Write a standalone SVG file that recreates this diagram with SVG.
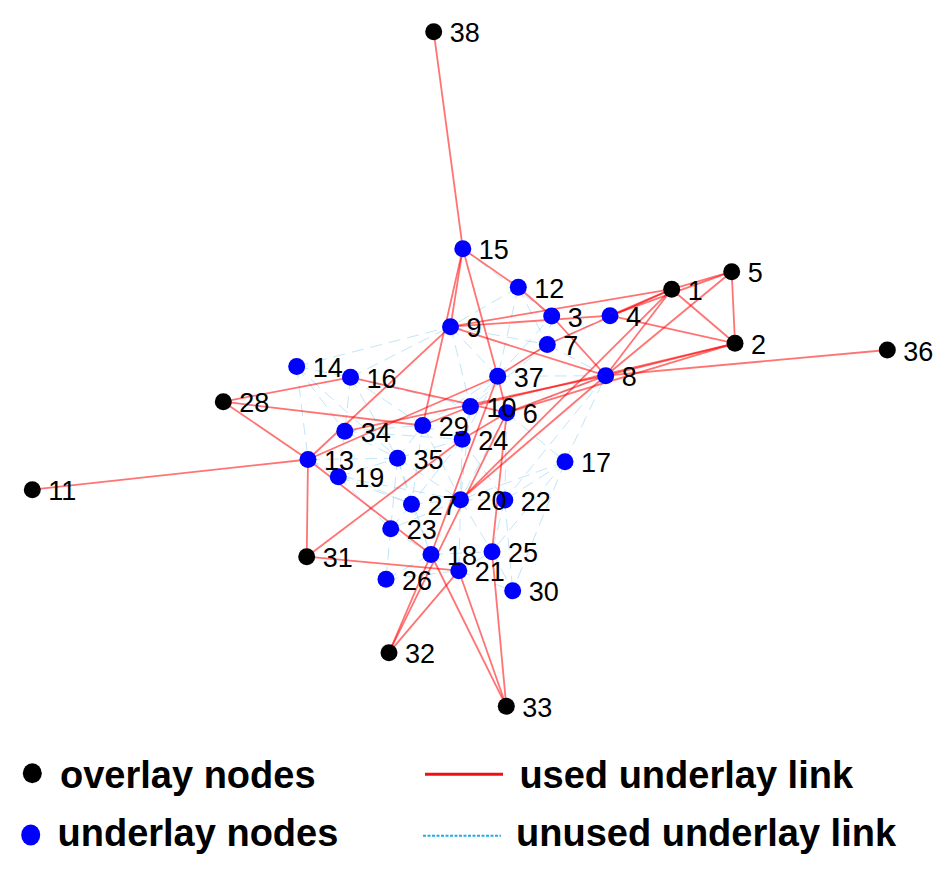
<svg xmlns="http://www.w3.org/2000/svg" width="948" height="872" viewBox="0 0 948 872">
<style>
.u{stroke:#8fd0ee;stroke-width:1;stroke-opacity:0.55;stroke-dasharray:12 7;fill:none}
.r{stroke:#ff0000;stroke-width:1.8;stroke-opacity:0.55;fill:none}
.ov{fill:#000}
.un{fill:#0000ff}
.lb{font-family:"Liberation Sans",Arial,sans-serif;font-size:27px;fill:#000}
.lg{font-family:"Liberation Sans",Arial,sans-serif;font-size:38px;font-weight:bold;fill:#000}
</style>
<rect width="948" height="872" fill="#fff"/>
<g id="unused-links" class="u">
<line x1="296.7" y1="366.5" x2="350.5" y2="377.3"/>
<line x1="296.7" y1="366.5" x2="344.8" y2="431.3"/>
<line x1="296.7" y1="366.5" x2="308" y2="459.5"/>
<line x1="296.7" y1="366.5" x2="450.5" y2="326.7"/>
<line x1="350.5" y1="377.3" x2="344.8" y2="431.3"/>
<line x1="350.5" y1="377.3" x2="450.5" y2="326.7"/>
<line x1="350.5" y1="377.3" x2="397.5" y2="458.2"/>
<line x1="350.5" y1="377.3" x2="422.7" y2="425.5"/>
<line x1="344.8" y1="431.3" x2="397.5" y2="458.2"/>
<line x1="344.8" y1="431.3" x2="422.7" y2="425.5"/>
<line x1="344.8" y1="431.3" x2="338.3" y2="476.7"/>
<line x1="308" y1="459.5" x2="397.5" y2="458.2"/>
<line x1="308" y1="459.5" x2="338.3" y2="476.7"/>
<line x1="338.3" y1="476.7" x2="397.5" y2="458.2"/>
<line x1="338.3" y1="476.7" x2="411.5" y2="504.2"/>
<line x1="338.3" y1="476.7" x2="390.7" y2="528.7"/>
<line x1="397.5" y1="458.2" x2="422.7" y2="425.5"/>
<line x1="397.5" y1="458.2" x2="462.2" y2="439.3"/>
<line x1="397.5" y1="458.2" x2="411.5" y2="504.2"/>
<line x1="397.5" y1="458.2" x2="460.5" y2="499.8"/>
<line x1="397.5" y1="458.2" x2="390.7" y2="528.7"/>
<line x1="422.7" y1="425.5" x2="462.2" y2="439.3"/>
<line x1="422.7" y1="425.5" x2="497.7" y2="376.3"/>
<line x1="422.7" y1="425.5" x2="411.5" y2="504.2"/>
<line x1="462.2" y1="439.3" x2="470.5" y2="406.5"/>
<line x1="462.2" y1="439.3" x2="497.7" y2="376.3"/>
<line x1="462.2" y1="439.3" x2="460.5" y2="499.8"/>
<line x1="462.2" y1="439.3" x2="504.8" y2="500"/>
<line x1="462.2" y1="439.3" x2="411.5" y2="504.2"/>
<line x1="470.5" y1="406.5" x2="497.7" y2="376.3"/>
<line x1="497.7" y1="376.3" x2="547.3" y2="344.5"/>
<line x1="497.7" y1="376.3" x2="551.7" y2="316"/>
<line x1="497.7" y1="376.3" x2="605.7" y2="375.7"/>
<line x1="506.7" y1="412.7" x2="565" y2="461.7"/>
<line x1="506.7" y1="412.7" x2="504.8" y2="500"/>
<line x1="506.7" y1="412.7" x2="460.5" y2="499.8"/>
<line x1="565" y1="461.7" x2="504.8" y2="500"/>
<line x1="565" y1="461.7" x2="492" y2="551.7"/>
<line x1="565" y1="461.7" x2="605.7" y2="375.7"/>
<line x1="565" y1="461.7" x2="460.5" y2="499.8"/>
<line x1="565" y1="461.7" x2="512.7" y2="590.8"/>
<line x1="460.5" y1="499.8" x2="504.8" y2="500"/>
<line x1="460.5" y1="499.8" x2="411.5" y2="504.2"/>
<line x1="460.5" y1="499.8" x2="390.7" y2="528.7"/>
<line x1="460.5" y1="499.8" x2="492" y2="551.7"/>
<line x1="460.5" y1="499.8" x2="458.8" y2="570.7"/>
<line x1="504.8" y1="500" x2="492" y2="551.7"/>
<line x1="504.8" y1="500" x2="512.7" y2="590.8"/>
<line x1="411.5" y1="504.2" x2="390.7" y2="528.7"/>
<line x1="411.5" y1="504.2" x2="431" y2="554.5"/>
<line x1="390.7" y1="528.7" x2="386" y2="579.3"/>
<line x1="390.7" y1="528.7" x2="431" y2="554.5"/>
<line x1="386" y1="579.3" x2="431" y2="554.5"/>
<line x1="386" y1="579.3" x2="458.8" y2="570.7"/>
<line x1="431" y1="554.5" x2="458.8" y2="570.7"/>
<line x1="431" y1="554.5" x2="492" y2="551.7"/>
<line x1="458.8" y1="570.7" x2="492" y2="551.7"/>
<line x1="458.8" y1="570.7" x2="512.7" y2="590.8"/>
<line x1="492" y1="551.7" x2="512.7" y2="590.8"/>
<line x1="551.7" y1="316" x2="547.3" y2="344.5"/>
<line x1="518.3" y1="287.3" x2="450.5" y2="326.7"/>
<line x1="518.3" y1="287.3" x2="547.3" y2="344.5"/>
<line x1="610" y1="315.7" x2="547.3" y2="344.5"/>
<line x1="547.3" y1="344.5" x2="605.7" y2="375.7"/>
<line x1="450.5" y1="326.7" x2="547.3" y2="344.5"/>
<line x1="450.5" y1="326.7" x2="497.7" y2="376.3"/>
<line x1="450.5" y1="326.7" x2="470.5" y2="406.5"/>
<line x1="462.8" y1="248.7" x2="551.7" y2="316"/>
<line x1="518.3" y1="287.3" x2="497.7" y2="376.3"/>
<line x1="547.3" y1="344.5" x2="470.5" y2="406.5"/>
<line x1="350.5" y1="377.3" x2="470.5" y2="406.5"/>
<line x1="296.7" y1="366.5" x2="397.5" y2="458.2"/>
<line x1="344.8" y1="431.3" x2="462.2" y2="439.3"/>
<line x1="308" y1="459.5" x2="411.5" y2="504.2"/>
<line x1="338.3" y1="476.7" x2="460.5" y2="499.8"/>
<line x1="397.5" y1="458.2" x2="431" y2="554.5"/>
<line x1="422.7" y1="425.5" x2="460.5" y2="499.8"/>
<line x1="470.5" y1="406.5" x2="460.5" y2="499.8"/>
<line x1="506.7" y1="412.7" x2="605.7" y2="375.7"/>
<line x1="605.7" y1="375.7" x2="504.8" y2="500"/>
</g>
<g id="used-links" class="r">
<line x1="433.7" y1="31.7" x2="462.8" y2="248.7"/>
<line x1="462.8" y1="248.7" x2="518.3" y2="287.3"/>
<line x1="518.3" y1="287.3" x2="551.7" y2="316"/>
<line x1="462.8" y1="248.7" x2="450.5" y2="326.7"/>
<line x1="462.8" y1="248.7" x2="422.7" y2="425.5"/>
<line x1="462.8" y1="248.7" x2="497.7" y2="376.3"/>
<line x1="497.7" y1="376.3" x2="506.7" y2="412.7"/>
<line x1="450.5" y1="326.7" x2="671.7" y2="289.2"/>
<line x1="450.5" y1="326.7" x2="610" y2="315.7"/>
<line x1="551.7" y1="316" x2="605.7" y2="375.7"/>
<line x1="450.5" y1="326.7" x2="605.7" y2="375.7"/>
<line x1="610" y1="315.7" x2="671.7" y2="289.2"/>
<line x1="610" y1="315.7" x2="731.7" y2="271.7"/>
<line x1="671.7" y1="289.2" x2="731.7" y2="271.7"/>
<line x1="671.7" y1="289.2" x2="735" y2="343.3"/>
<line x1="731.7" y1="271.7" x2="735" y2="343.3"/>
<line x1="610" y1="315.7" x2="735" y2="343.3"/>
<line x1="605.7" y1="375.7" x2="731.7" y2="271.7"/>
<line x1="605.7" y1="375.7" x2="671.7" y2="289.2"/>
<line x1="605.7" y1="375.7" x2="735" y2="343.3"/>
<line x1="735" y1="343.3" x2="470.5" y2="406.5"/>
<line x1="735" y1="343.3" x2="506.7" y2="412.7"/>
<line x1="605.7" y1="375.7" x2="887.3" y2="350"/>
<line x1="605.7" y1="375.7" x2="506.7" y2="412.7"/>
<line x1="605.7" y1="375.7" x2="460.5" y2="499.8"/>
<line x1="671.7" y1="289.2" x2="460.5" y2="499.8"/>
<line x1="671.7" y1="289.2" x2="547.3" y2="344.5"/>
<line x1="547.3" y1="344.5" x2="497.7" y2="376.3"/>
<line x1="497.7" y1="376.3" x2="308" y2="459.5"/>
<line x1="450.5" y1="326.7" x2="308" y2="459.5"/>
<line x1="223.3" y1="401.7" x2="350.5" y2="377.3"/>
<line x1="350.5" y1="377.3" x2="506.7" y2="412.7"/>
<line x1="223.3" y1="401.7" x2="422.7" y2="425.5"/>
<line x1="422.7" y1="425.5" x2="470.5" y2="406.5"/>
<line x1="223.3" y1="401.7" x2="308" y2="459.5"/>
<line x1="32.3" y1="489.7" x2="308" y2="459.5"/>
<line x1="308" y1="459.5" x2="306.7" y2="556.7"/>
<line x1="308" y1="459.5" x2="431" y2="554.5"/>
<line x1="306.7" y1="556.7" x2="458.8" y2="570.7"/>
<line x1="306.7" y1="556.7" x2="462.2" y2="439.3"/>
<line x1="462.2" y1="439.3" x2="506.7" y2="412.7"/>
<line x1="344.8" y1="431.3" x2="605.7" y2="375.7"/>
<line x1="389" y1="652.7" x2="431" y2="554.5"/>
<line x1="389" y1="652.7" x2="506.7" y2="412.7"/>
<line x1="389" y1="652.7" x2="458.8" y2="570.7"/>
<line x1="431" y1="554.5" x2="497.7" y2="376.3"/>
<line x1="431" y1="554.5" x2="506.3" y2="706.3"/>
<line x1="458.8" y1="570.7" x2="506.3" y2="706.3"/>
<line x1="506.7" y1="412.7" x2="492" y2="551.7"/>
<line x1="492" y1="551.7" x2="506.3" y2="706.3"/>
</g>
<g id="n38"><circle class="ov" cx="433.7" cy="31.7" r="8.5"/><text class="lb" x="449.7" y="42.2">38</text></g>
<g id="n15"><circle class="un" cx="462.8" cy="248.7" r="8.5"/><text class="lb" x="478.8" y="259.2">15</text></g>
<g id="n12"><circle class="un" cx="518.3" cy="287.3" r="8.5"/><text class="lb" x="534.3" y="297.8">12</text></g>
<g id="n1"><circle class="ov" cx="671.7" cy="289.2" r="8.5"/><text class="lb" x="687.7" y="299.7">1</text></g>
<g id="n5"><circle class="ov" cx="731.7" cy="271.7" r="8.5"/><text class="lb" x="747.7" y="282.2">5</text></g>
<g id="n3"><circle class="un" cx="551.7" cy="316" r="8.5"/><text class="lb" x="567.7" y="326.5">3</text></g>
<g id="n4"><circle class="un" cx="610" cy="315.7" r="8.5"/><text class="lb" x="626" y="326.2">4</text></g>
<g id="n9"><circle class="un" cx="450.5" cy="326.7" r="8.5"/><text class="lb" x="466.5" y="337.2">9</text></g>
<g id="n7"><circle class="un" cx="547.3" cy="344.5" r="8.5"/><text class="lb" x="563.3" y="355">7</text></g>
<g id="n2"><circle class="ov" cx="735" cy="343.3" r="8.5"/><text class="lb" x="751" y="353.8">2</text></g>
<g id="n36"><circle class="ov" cx="887.3" cy="350" r="8.5"/><text class="lb" x="903.3" y="360.5">36</text></g>
<g id="n8"><circle class="un" cx="605.7" cy="375.7" r="8.5"/><text class="lb" x="621.7" y="386.2">8</text></g>
<g id="n37"><circle class="un" cx="497.7" cy="376.3" r="8.5"/><text class="lb" x="513.7" y="386.8">37</text></g>
<g id="n16"><circle class="un" cx="350.5" cy="377.3" r="8.5"/><text class="lb" x="366.5" y="387.8">16</text></g>
<g id="n14"><circle class="un" cx="296.7" cy="366.5" r="8.5"/><text class="lb" x="312.7" y="377">14</text></g>
<g id="n28"><circle class="ov" cx="223.3" cy="401.7" r="8.5"/><text class="lb" x="239.3" y="412.2">28</text></g>
<g id="n6"><circle class="un" cx="506.7" cy="412.7" r="8.5"/><text class="lb" x="522.7" y="423.2">6</text></g>
<g id="n10"><circle class="un" cx="470.5" cy="406.5" r="8.5"/><text class="lb" x="486.5" y="417">10</text></g>
<g id="n24"><circle class="un" cx="462.2" cy="439.3" r="8.5"/><text class="lb" x="478.2" y="449.8">24</text></g>
<g id="n29"><circle class="un" cx="422.7" cy="425.5" r="8.5"/><text class="lb" x="438.7" y="436">29</text></g>
<g id="n34"><circle class="un" cx="344.8" cy="431.3" r="8.5"/><text class="lb" x="360.8" y="441.8">34</text></g>
<g id="n19"><circle class="un" cx="338.3" cy="476.7" r="8.5"/><text class="lb" x="354.3" y="487.2">19</text></g>
<g id="n13"><circle class="un" cx="308" cy="459.5" r="8.5"/><text class="lb" x="324" y="470">13</text></g>
<g id="n35"><circle class="un" cx="397.5" cy="458.2" r="8.5"/><text class="lb" x="413.5" y="468.7">35</text></g>
<g id="n17"><circle class="un" cx="565" cy="461.7" r="8.5"/><text class="lb" x="581" y="472.2">17</text></g>
<g id="n11"><circle class="ov" cx="32.3" cy="489.7" r="8.5"/><text class="lb" x="48.3" y="500.2">11</text></g>
<g id="n22"><circle class="un" cx="504.8" cy="500" r="8.5"/><text class="lb" x="520.8" y="510.5">22</text></g>
<g id="n20"><circle class="un" cx="460.5" cy="499.8" r="8.5"/><text class="lb" x="476.5" y="510.3">20</text></g>
<g id="n27"><circle class="un" cx="411.5" cy="504.2" r="8.5"/><text class="lb" x="427.5" y="514.7">27</text></g>
<g id="n23"><circle class="un" cx="390.7" cy="528.7" r="8.5"/><text class="lb" x="406.7" y="539.2">23</text></g>
<g id="n21"><circle class="un" cx="458.8" cy="570.7" r="8.5"/><text class="lb" x="474.8" y="581.2">21</text></g>
<g id="n18"><circle class="un" cx="431" cy="554.5" r="8.5"/><text class="lb" x="447" y="565">18</text></g>
<g id="n31"><circle class="ov" cx="306.7" cy="556.7" r="8.5"/><text class="lb" x="322.7" y="567.2">31</text></g>
<g id="n26"><circle class="un" cx="386" cy="579.3" r="8.5"/><text class="lb" x="402" y="589.8">26</text></g>
<g id="n25"><circle class="un" cx="492" cy="551.7" r="8.5"/><text class="lb" x="508" y="562.2">25</text></g>
<g id="n30"><circle class="un" cx="512.7" cy="590.8" r="8.5"/><text class="lb" x="528.7" y="601.3">30</text></g>
<g id="n32"><circle class="ov" cx="389" cy="652.7" r="8.5"/><text class="lb" x="405" y="663.2">32</text></g>
<g id="n33"><circle class="ov" cx="506.3" cy="706.3" r="8.5"/><text class="lb" x="522.3" y="716.8">33</text></g>
<g id="legend">
<ellipse cx="32.3" cy="773.3" rx="9.5" ry="10" fill="#000"/>
<text class="lg" x="60" y="787.8">overlay nodes</text>
<ellipse cx="30.7" cy="835" rx="9.5" ry="10.5" fill="#0000ff"/>
<text class="lg" x="57.5" y="846.2">underlay nodes</text>
<line x1="425" y1="774.3" x2="503" y2="774.3" stroke="#ee1111" stroke-width="3"/>
<text class="lg" x="519.4" y="787.8">used underlay link</text>
<line x1="423" y1="835.7" x2="501" y2="835.7" stroke="#22aaf0" stroke-width="2" stroke-dasharray="3 1.5"/>
<text class="lg" x="516" y="846.2">unused underlay link</text>
</g>
</svg>
